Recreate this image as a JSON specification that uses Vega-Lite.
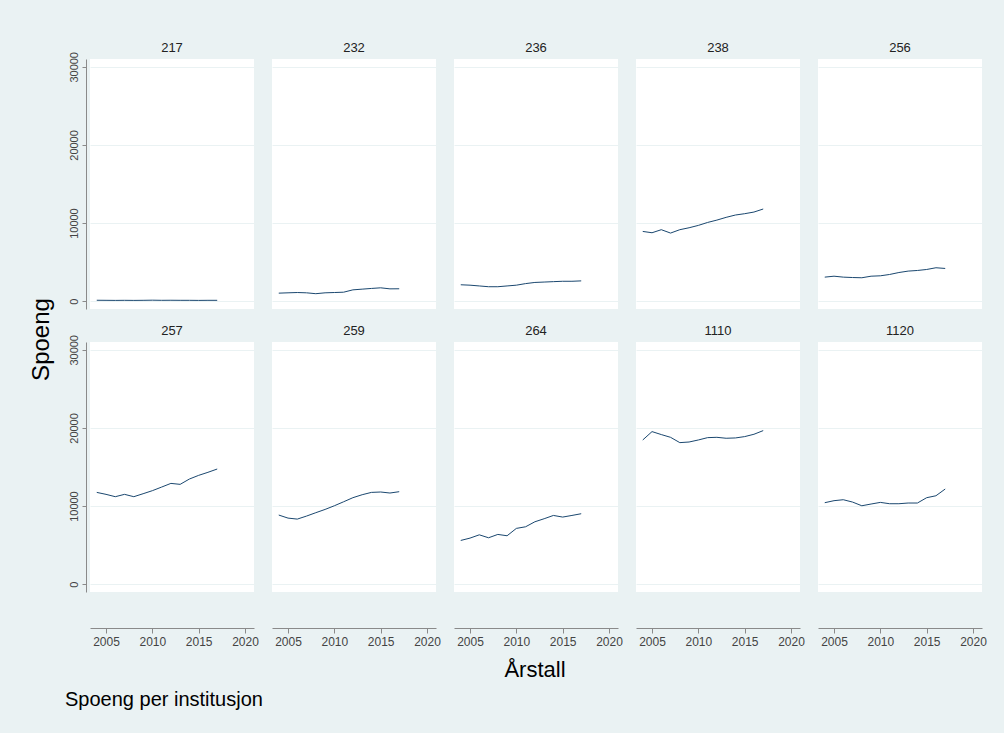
{
  "$schema": "https://vega.github.io/schema/vega-lite/v6.json",
  "background": "#eaf2f3",
  "padding": {"left": 30, "top": 42, "right": 25, "bottom": 28},
  "datasets": {
    "spoeng": [
      {"inst": 217, "year": 2004, "spoeng": 120}, {"inst": 217, "year": 2005, "spoeng": 110}, {"inst": 217, "year": 2006, "spoeng": 100}, {"inst": 217, "year": 2007, "spoeng": 110}, {"inst": 217, "year": 2008, "spoeng": 100}, {"inst": 217, "year": 2009, "spoeng": 110}, {"inst": 217, "year": 2010, "spoeng": 130}, {"inst": 217, "year": 2011, "spoeng": 110}, {"inst": 217, "year": 2012, "spoeng": 120}, {"inst": 217, "year": 2013, "spoeng": 110}, {"inst": 217, "year": 2014, "spoeng": 110}, {"inst": 217, "year": 2015, "spoeng": 100}, {"inst": 217, "year": 2016, "spoeng": 110}, {"inst": 217, "year": 2017, "spoeng": 110},
      {"inst": 232, "year": 2004, "spoeng": 1030}, {"inst": 232, "year": 2005, "spoeng": 1070}, {"inst": 232, "year": 2006, "spoeng": 1110}, {"inst": 232, "year": 2007, "spoeng": 1070}, {"inst": 232, "year": 2008, "spoeng": 960}, {"inst": 232, "year": 2009, "spoeng": 1070}, {"inst": 232, "year": 2010, "spoeng": 1110}, {"inst": 232, "year": 2011, "spoeng": 1150}, {"inst": 232, "year": 2012, "spoeng": 1450}, {"inst": 232, "year": 2013, "spoeng": 1540}, {"inst": 232, "year": 2014, "spoeng": 1630}, {"inst": 232, "year": 2015, "spoeng": 1710}, {"inst": 232, "year": 2016, "spoeng": 1580}, {"inst": 232, "year": 2017, "spoeng": 1590},
      {"inst": 236, "year": 2004, "spoeng": 2100}, {"inst": 236, "year": 2005, "spoeng": 2050}, {"inst": 236, "year": 2006, "spoeng": 1950}, {"inst": 236, "year": 2007, "spoeng": 1850}, {"inst": 236, "year": 2008, "spoeng": 1850}, {"inst": 236, "year": 2009, "spoeng": 1950}, {"inst": 236, "year": 2010, "spoeng": 2050}, {"inst": 236, "year": 2011, "spoeng": 2250}, {"inst": 236, "year": 2012, "spoeng": 2400}, {"inst": 236, "year": 2013, "spoeng": 2450}, {"inst": 236, "year": 2014, "spoeng": 2500}, {"inst": 236, "year": 2015, "spoeng": 2550}, {"inst": 236, "year": 2016, "spoeng": 2550}, {"inst": 236, "year": 2017, "spoeng": 2600},
      {"inst": 238, "year": 2004, "spoeng": 8930}, {"inst": 238, "year": 2005, "spoeng": 8760}, {"inst": 238, "year": 2006, "spoeng": 9150}, {"inst": 238, "year": 2007, "spoeng": 8720}, {"inst": 238, "year": 2008, "spoeng": 9150}, {"inst": 238, "year": 2009, "spoeng": 9400}, {"inst": 238, "year": 2010, "spoeng": 9700}, {"inst": 238, "year": 2011, "spoeng": 10080}, {"inst": 238, "year": 2012, "spoeng": 10380}, {"inst": 238, "year": 2013, "spoeng": 10730}, {"inst": 238, "year": 2014, "spoeng": 11030}, {"inst": 238, "year": 2015, "spoeng": 11200}, {"inst": 238, "year": 2016, "spoeng": 11410}, {"inst": 238, "year": 2017, "spoeng": 11800},
      {"inst": 256, "year": 2004, "spoeng": 3080}, {"inst": 256, "year": 2005, "spoeng": 3200}, {"inst": 256, "year": 2006, "spoeng": 3080}, {"inst": 256, "year": 2007, "spoeng": 3030}, {"inst": 256, "year": 2008, "spoeng": 3000}, {"inst": 256, "year": 2009, "spoeng": 3200}, {"inst": 256, "year": 2010, "spoeng": 3250}, {"inst": 256, "year": 2011, "spoeng": 3420}, {"inst": 256, "year": 2012, "spoeng": 3670}, {"inst": 256, "year": 2013, "spoeng": 3850}, {"inst": 256, "year": 2014, "spoeng": 3930}, {"inst": 256, "year": 2015, "spoeng": 4060}, {"inst": 256, "year": 2016, "spoeng": 4280}, {"inst": 256, "year": 2017, "spoeng": 4190},
      {"inst": 257, "year": 2004, "spoeng": 11750}, {"inst": 257, "year": 2005, "spoeng": 11500}, {"inst": 257, "year": 2006, "spoeng": 11200}, {"inst": 257, "year": 2007, "spoeng": 11500}, {"inst": 257, "year": 2008, "spoeng": 11200}, {"inst": 257, "year": 2009, "spoeng": 11580}, {"inst": 257, "year": 2010, "spoeng": 11970}, {"inst": 257, "year": 2011, "spoeng": 12430}, {"inst": 257, "year": 2012, "spoeng": 12900}, {"inst": 257, "year": 2013, "spoeng": 12780}, {"inst": 257, "year": 2014, "spoeng": 13460}, {"inst": 257, "year": 2015, "spoeng": 13930}, {"inst": 257, "year": 2016, "spoeng": 14320}, {"inst": 257, "year": 2017, "spoeng": 14740},
      {"inst": 259, "year": 2004, "spoeng": 8850}, {"inst": 259, "year": 2005, "spoeng": 8460}, {"inst": 259, "year": 2006, "spoeng": 8330}, {"inst": 259, "year": 2007, "spoeng": 8720}, {"inst": 259, "year": 2008, "spoeng": 9150}, {"inst": 259, "year": 2009, "spoeng": 9570}, {"inst": 259, "year": 2010, "spoeng": 10040}, {"inst": 259, "year": 2011, "spoeng": 10550}, {"inst": 259, "year": 2012, "spoeng": 11070}, {"inst": 259, "year": 2013, "spoeng": 11450}, {"inst": 259, "year": 2014, "spoeng": 11750}, {"inst": 259, "year": 2015, "spoeng": 11800}, {"inst": 259, "year": 2016, "spoeng": 11670}, {"inst": 259, "year": 2017, "spoeng": 11840},
      {"inst": 264, "year": 2004, "spoeng": 5600}, {"inst": 264, "year": 2005, "spoeng": 5900}, {"inst": 264, "year": 2006, "spoeng": 6320}, {"inst": 264, "year": 2007, "spoeng": 5940}, {"inst": 264, "year": 2008, "spoeng": 6370}, {"inst": 264, "year": 2009, "spoeng": 6200}, {"inst": 264, "year": 2010, "spoeng": 7140}, {"inst": 264, "year": 2011, "spoeng": 7350}, {"inst": 264, "year": 2012, "spoeng": 7990}, {"inst": 264, "year": 2013, "spoeng": 8380}, {"inst": 264, "year": 2014, "spoeng": 8800}, {"inst": 264, "year": 2015, "spoeng": 8590}, {"inst": 264, "year": 2016, "spoeng": 8800}, {"inst": 264, "year": 2017, "spoeng": 9020},
      {"inst": 1110, "year": 2004, "spoeng": 18460}, {"inst": 1110, "year": 2005, "spoeng": 19530}, {"inst": 1110, "year": 2006, "spoeng": 19150}, {"inst": 1110, "year": 2007, "spoeng": 18800}, {"inst": 1110, "year": 2008, "spoeng": 18120}, {"inst": 1110, "year": 2009, "spoeng": 18200}, {"inst": 1110, "year": 2010, "spoeng": 18460}, {"inst": 1110, "year": 2011, "spoeng": 18760}, {"inst": 1110, "year": 2012, "spoeng": 18800}, {"inst": 1110, "year": 2013, "spoeng": 18680}, {"inst": 1110, "year": 2014, "spoeng": 18720}, {"inst": 1110, "year": 2015, "spoeng": 18890}, {"inst": 1110, "year": 2016, "spoeng": 19190}, {"inst": 1110, "year": 2017, "spoeng": 19660},
      {"inst": 1120, "year": 2004, "spoeng": 10430}, {"inst": 1120, "year": 2005, "spoeng": 10690}, {"inst": 1120, "year": 2006, "spoeng": 10810}, {"inst": 1120, "year": 2007, "spoeng": 10510}, {"inst": 1120, "year": 2008, "spoeng": 10040}, {"inst": 1120, "year": 2009, "spoeng": 10260}, {"inst": 1120, "year": 2010, "spoeng": 10470}, {"inst": 1120, "year": 2011, "spoeng": 10300}, {"inst": 1120, "year": 2012, "spoeng": 10300}, {"inst": 1120, "year": 2013, "spoeng": 10390}, {"inst": 1120, "year": 2014, "spoeng": 10390}, {"inst": 1120, "year": 2015, "spoeng": 11070}, {"inst": 1120, "year": 2016, "spoeng": 11320}, {"inst": 1120, "year": 2017, "spoeng": 12180}
    ]
  },
  "data": {"name": "spoeng"},
  "title": {"text": "Spoeng per institusjon", "orient": "bottom", "anchor": "start", "font": "Liberation Sans", "fontSize": 20, "fontWeight": "normal", "color": "#000000", "offset": 9, "dx": 35},
  "vconcat": [
    {
      "title": {"text": "Spoeng", "orient": "left", "anchor": "middle", "font": "Liberation Sans", "fontSize": 24, "fontWeight": "normal", "color": "#000000", "offset": 14, "dx": 22},
      "facet": {
        "field": "inst",
        "type": "ordinal",
        "title": "Årstall",
        "header": {"titleOrient": "bottom", "titleFont": "Liberation Sans", "titleFontSize": 22, "titleFontWeight": "normal", "titleColor": "#000000", "titlePadding": 13, "labelFont": "Liberation Sans", "labelFontSize": 13, "labelColor": "#222222", "labelPadding": 4}
      },
      "columns": 5,
      "spacing": {"column": 16, "row": 16},
      "spec": {
        "width": 164,
        "height": 250,
        "mark": {"type": "line", "color": "#1a476f", "strokeWidth": 1},
        "encoding": {
          "x": {
            "field": "year",
            "type": "quantitative",
            "title": null,
            "scale": {"domain": [2003.27, 2020.97], "nice": false, "zero": false},
            "axis": {"values": [2005, 2010, 2015, 2020], "format": "d", "offset": 36, "grid": false, "domainColor": "#8a8a8a", "tickColor": "#8a8a8a", "tickSize": 5, "labelFontSize": 12, "labelColor": "#444444", "labelPadding": 3}
          },
          "y": {
            "field": "spoeng",
            "type": "quantitative",
            "title": null,
            "scale": {"domain": [-1000, 31000], "nice": false, "zero": false},
            "axis": {"values": [0, 10000, 20000, 30000], "format": "d", "offset": 2, "grid": true, "gridColor": "#eaf2f3", "domainColor": "#8a8a8a", "tickColor": "#8a8a8a", "tickSize": 4, "labelAngle": -90, "labelAlign": "center", "labelBaseline": "bottom", "labelFontSize": 11, "labelColor": "#444444", "labelPadding": 3}
          }
        }
      }
    }
  ],
  "config": {
    "font": "Liberation Sans",
    "view": {"fill": "white", "stroke": null},
    "axis": {"labelFont": "Liberation Sans", "titleFont": "Liberation Sans"}
  }
}
